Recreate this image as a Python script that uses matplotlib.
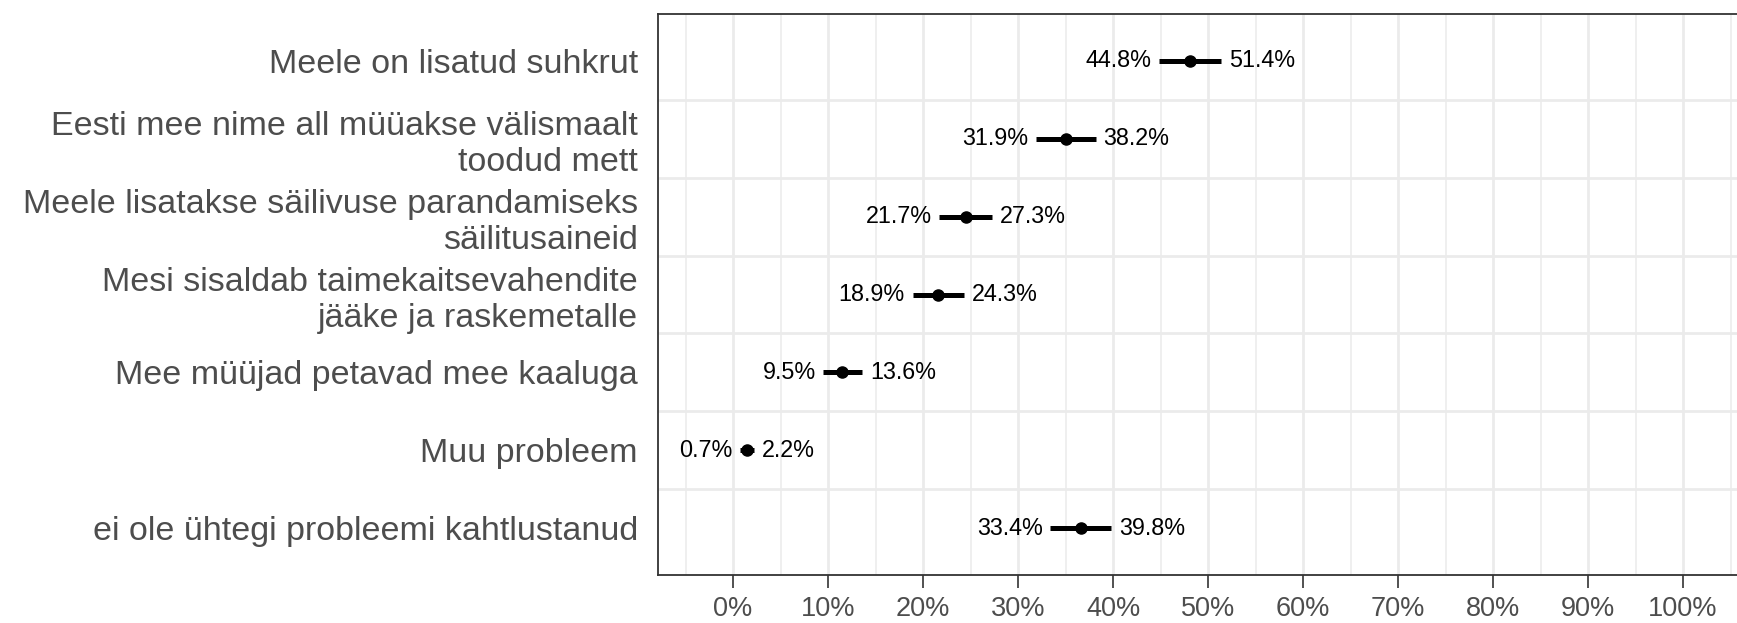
import matplotlib.pyplot as plt
from matplotlib.ticker import FixedLocator, FuncFormatter

# data
categories = [
    "Meele on lisatud suhkrut",
    "Eesti mee nime all müüakse välismaalt\ntoodud mett",
    "Meele lisatakse säilivuse parandamiseks\nsäilitusaineid",
    "Mesi sisaldab taimekaitsevahendite\njääke ja raskemetalle",
    "Mee müüjad petavad mee kaaluga",
    "Muu probleem",
    "ei ole ühtegi probleemi kahtlustanud",
]
estimate = [48.1, 35.0, 24.5, 21.6, 11.5, 1.45, 36.6]
lower = [44.8, 31.9, 21.7, 18.9, 9.5, 0.7, 33.4]
upper = [51.4, 38.2, 27.3, 24.3, 13.6, 2.2, 39.8]
x_ticks = list(range(0, 101, 10))

plt.rcParams["font.family"] = ["Liberation Sans", "DejaVu Sans"]

W, H = 1737, 623
fig = plt.figure(figsize=(W / 100, H / 100), dpi=100)
ax = fig.add_axes([658 / W, (H - 575) / H, (W - 658) / W + 0.01, (575 - 14) / H])

ypos = list(range(len(categories)))

ax.hlines(ypos, lower, upper, color="black", lw=3.6, zorder=3)
ax.plot(estimate, ypos, "o", color="black", ms=8, zorder=4)

for y, lo, hi in zip(ypos, lower, upper):
    ax.annotate(f"{lo:.1f}%", (lo, y), xytext=(-5.5, 0), textcoords="offset points",
                ha="right", va="center", fontsize=16.8, color="black")
    ax.annotate(f"{hi:.1f}%", (hi, y), xytext=(5.5, 0), textcoords="offset points",
                ha="left", va="center", fontsize=16.8, color="black")

ax.set_xlim(-7.9, 107.5)
ax.set_ylim(len(categories) - 0.4, -0.6)

# grid: vertical major + minor, horizontal between categories
grid_c = "#EBEBEB"
for v in x_ticks:
    ax.axvline(v, color=grid_c, lw=2.0, zorder=0)
for v in range(-5, 110, 10):
    ax.axvline(v, color=grid_c, lw=1.1, zorder=0)
for y in ypos[:-1]:
    ax.axhline(y + 0.5, color=grid_c, lw=2.0, zorder=0)

ax.xaxis.set_major_locator(FixedLocator(x_ticks))
ax.xaxis.set_major_formatter(FuncFormatter(lambda v, p: f"{v:.0f}%"))
ax.set_yticks(ypos)
ax.set_yticklabels(categories, linespacing=1.22)

ax.tick_params(axis="x", length=9, width=1.2, color="#333333", labelsize=19.5,
               labelcolor="#4D4D4D", pad=6)
ax.tick_params(axis="y", length=0, labelsize=24.5, labelcolor="#4D4D4D", pad=14.5)

for s in ax.spines.values():
    s.set_color("#333333")
    s.set_linewidth(1.3)

fig.savefig("out.png", dpi=100)
